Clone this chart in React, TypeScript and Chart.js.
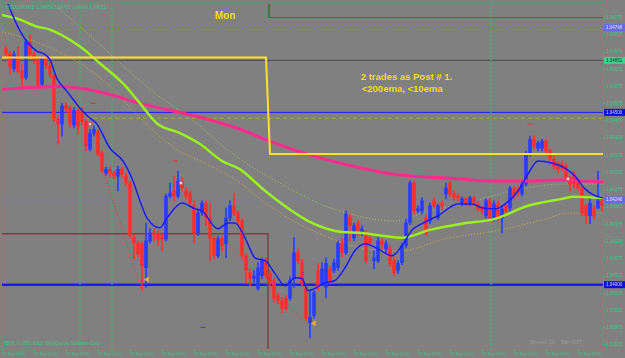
import React, { useEffect, useRef } from 'react';
import { Chart, registerables } from 'chart.js';
Chart.register(...registerables);

// ---------- data ----------
const timeLabels = ["21 Sep 2012", "21 Sep 17:00", "21 Sep 19:00", "21 Sep 21:00", "24 Sep 01:00", "24 Sep 03:00", "24 Sep 05:00", "24 Sep 07:00", "24 Sep 09:00", "24 Sep 11:00", "24 Sep 13:00", "24 Sep 15:00", "24 Sep 17:00", "24 Sep 19:00", "24 Sep 21:00", "24 Sep 23:00", "25 Sep 01:00", "25 Sep 03:00", "25 Sep 05:00"];
const priceTicks = [1.04775, 1.04725, 1.04675, 1.04625, 1.04575, 1.04525, 1.04475, 1.04425, 1.04375, 1.04325, 1.04275, 1.04225, 1.04175, 1.04125, 1.04075, 1.04025, 1.03975, 1.03925, 1.03875, 1.03825];

const barOpen = [1.04685,1.04671,1.04627,1.04662,1.04619,1.04601,1.04705,1.04668,1.04656,1.04581,
1.04656,1.04636,1.04607,1.04480,1.04466,1.04520,1.04512,1.04463,1.04506,1.04503,
1.04474,1.04393,1.04440,1.04445,1.04382,1.04324,1.04335,1.04324,1.04315,1.04335,
1.04315,1.04295,1.04139,1.04121,1.04119,1.04049,1.04127,1.04150,1.04148,1.04142,
1.04133,1.04257,1.04272,1.04257,1.04301,1.04272,1.04266,1.04229,1.04150,1.04208,
1.04237,1.04194,1.04136,1.04084,1.04133,1.04119,1.04194,1.04229,1.04208,1.04185,
1.04084,1.04035,1.04018,1.03989,1.04026,1.04070,1.04032,1.04012,1.03968,1.03954,
1.03960,1.03960,1.04018,1.04093,1.04064,1.03992,1.03890,1.03911,1.04041,1.04006,
1.03992,1.04046,1.04041,1.04049,1.04121,1.04093,1.04194,1.04136,1.04177,1.04150,
1.04148,1.04136,1.04070,1.04070,1.04127,1.04104,1.04104,1.04070,1.04041,1.04064,
1.04113,1.04179,1.04295,1.04214,1.04214,1.04194,1.04185,1.04243,1.04194,1.04237,
1.04263,1.04295,1.04263,1.04257,1.04237,1.04249,1.04237,1.04252,1.04234,1.04223,
1.04200,1.04243,1.04194,1.04234,1.04194,1.04229,1.04223,1.04278,1.04278,1.04263,
1.04292,1.04382,1.04422,1.04396,1.04396,1.04417,1.04388,1.04364,1.04353,1.04350,
1.04344,1.04309,1.04321,1.04301,1.04281,1.04229,1.04200,1.04220,1.04223,1.04243];

const barHigh = [1.04691,1.04677,1.04677,1.04691,1.04639,1.04711,1.04726,1.04677,1.04662,1.04662,
1.04665,1.04648,1.04613,1.04489,1.04526,1.04529,1.04518,1.04515,1.04512,1.04515,
1.04480,1.04451,1.04460,1.04451,1.04388,1.04341,1.04341,1.04330,1.04344,1.04341,
1.04324,1.04301,1.04145,1.04127,1.04125,1.04179,1.04162,1.04162,1.04156,1.04150,
1.04263,1.04295,1.04315,1.04330,1.04312,1.04281,1.04272,1.04243,1.04220,1.04243,
1.04243,1.04237,1.04142,1.04142,1.04142,1.04223,1.04243,1.04266,1.04214,1.04191,
1.04090,1.04046,1.04041,1.04064,1.04078,1.04078,1.04041,1.04018,1.03977,1.03963,
1.03968,1.04023,1.04136,1.04104,1.04075,1.03997,1.03983,1.03983,1.04061,1.04064,
1.04078,1.04055,1.04075,1.04127,1.04133,1.04214,1.04205,1.04179,1.04185,1.04171,
1.04156,1.04148,1.04098,1.04139,1.04133,1.04127,1.04113,1.04078,1.04070,1.04121,
1.04191,1.04301,1.04301,1.04229,1.04252,1.04203,1.04237,1.04252,1.04234,1.04243,
1.04295,1.04301,1.04272,1.04263,1.04255,1.04255,1.04257,1.04257,1.04243,1.04229,
1.04249,1.04249,1.04243,1.04243,1.04229,1.04234,1.04286,1.04286,1.04286,1.04301,
1.04388,1.04431,1.04431,1.04417,1.04422,1.04422,1.04393,1.04373,1.04359,1.04359,
1.04353,1.04315,1.04330,1.04307,1.04286,1.04234,1.04252,1.04229,1.04330,1.04255];

const barLow = [1.04662,1.04610,1.04619,1.04613,1.04575,1.04596,1.04656,1.04642,1.04570,1.04572,
1.04627,1.04601,1.04474,1.04408,1.04431,1.04500,1.04457,1.04454,1.04437,1.04463,
1.04388,1.04388,1.04431,1.04373,1.04324,1.04318,1.04312,1.04307,1.04272,1.04312,
1.04286,1.04136,1.04075,1.04081,1.03983,1.03992,1.04121,1.04127,1.04113,1.04098,
1.04127,1.04252,1.04243,1.04252,1.04272,1.04249,1.04229,1.04121,1.04142,1.04200,
1.04171,1.04070,1.04075,1.04078,1.04098,1.04078,1.04185,1.04200,1.04171,1.04075,
1.04003,1.03997,1.04006,1.03983,1.04018,1.04018,1.03995,1.03948,1.03945,1.03919,
1.03925,1.03954,1.03992,1.04061,1.03995,1.03896,1.03847,1.03902,1.03983,1.03997,
1.03963,1.04003,1.04035,1.04041,1.04081,1.04087,1.04127,1.04127,1.04142,1.04142,
1.04064,1.04113,1.04046,1.04064,1.04104,1.04093,1.04052,1.04026,1.04032,1.04058,
1.04107,1.04174,1.04205,1.04208,1.04205,1.04142,1.04177,1.04223,1.04188,1.04220,
1.04249,1.04255,1.04246,1.04243,1.04229,1.04229,1.04229,1.04229,1.04214,1.04205,
1.04194,1.04185,1.04185,1.04185,1.04150,1.04205,1.04214,1.04249,1.04257,1.04257,
1.04286,1.04373,1.04393,1.04388,1.04388,1.04382,1.04359,1.04335,1.04324,1.04330,
1.04301,1.04272,1.04281,1.04272,1.04200,1.04177,1.04177,1.04191,1.04220,1.04214];

const barClose = [1.04671,1.04633,1.04668,1.04619,1.04599,1.04705,1.04668,1.04653,1.04575,1.04656,
1.04636,1.04610,1.04480,1.04466,1.04518,1.04509,1.04466,1.04506,1.04460,1.04474,
1.04402,1.04440,1.04451,1.04379,1.04330,1.04335,1.04324,1.04315,1.04335,1.04321,
1.04295,1.04142,1.04121,1.04090,1.04055,1.04127,1.04150,1.04145,1.04133,1.04133,
1.04257,1.04266,1.04257,1.04301,1.04281,1.04257,1.04237,1.04150,1.04208,1.04237,
1.04194,1.04136,1.04084,1.04133,1.04113,1.04194,1.04229,1.04208,1.04185,1.04084,
1.04041,1.04018,1.04026,1.04049,1.04070,1.04026,1.04003,1.03960,1.03954,1.03931,
1.03931,1.04012,1.04093,1.04070,1.04003,1.03902,1.03905,1.03977,1.03997,1.04046,
1.04061,1.04012,1.04064,1.04119,1.04093,1.04205,1.04171,1.04171,1.04156,1.04162,
1.04070,1.04121,1.04078,1.04127,1.04116,1.04119,1.04061,1.04035,1.04061,1.04113,
1.04179,1.04295,1.04214,1.04220,1.04243,1.04150,1.04229,1.04229,1.04229,1.04231,
1.04281,1.04263,1.04255,1.04252,1.04249,1.04237,1.04252,1.04237,1.04220,1.04214,
1.04243,1.04194,1.04234,1.04194,1.04220,1.04214,1.04281,1.04257,1.04266,1.04292,
1.04379,1.04422,1.04402,1.04411,1.04417,1.04388,1.04367,1.04344,1.04335,1.04338,
1.04309,1.04292,1.04292,1.04281,1.04208,1.04200,1.04237,1.04200,1.04243,1.04229];

// moving averages: [bar index, price]
const ema10 = [[0.5,1.04850],[1.5,1.04815],[5,1.04726],[8.75,1.04677],[10.25,1.04671],[12,1.04653],[13.75,1.04598],[16.25,1.04561],[19.5,1.04512],[22,1.04483],[23.75,1.04466],[27,1.04396],[30.25,1.04359],[32.75,1.04301],[34.5,1.04243],[36.25,1.04194],[39.5,1.04165],[41.25,1.04194],[45,1.04237],[48.25,1.04220],[50,1.04214],[54,1.04162],[56.5,1.04179],[58.25,1.04179],[60.75,1.04136],[63.25,1.04078],[65.75,1.04070],[68.25,1.04032],[70.75,1.03997],[73.25,1.04020],[75,1.04018],[76.5,1.03983],[78.25,1.03989],[80.75,1.04006],[83.25,1.04012],[85.75,1.04049],[88.25,1.04099],[90.75,1.04119],[94,1.04104],[97.5,1.04084],[100,1.04113],[102.5,1.04159],[105,1.04177],[109,1.04200],[114,1.04234],[117.5,1.04234],[120,1.04223],[123.25,1.04220],[125.75,1.04234],[129,1.04272],[131.5,1.04321],[134,1.04359],[137.5,1.04353],[140.75,1.04338],[143.25,1.04315],[145.75,1.04278],[148.25,1.04258],[150.25,1.04252]];
const emaMid = [[0,1.04783],[4.5,1.04769],[8.75,1.04749],[12,1.04740],[19.5,1.04691],[24.5,1.04642],[30.25,1.04584],[34.5,1.04526],[38.75,1.04468],[44.5,1.04440],[49.5,1.04408],[55,1.04359],[59.5,1.04335],[65.5,1.04275],[72.5,1.04214],[77.5,1.04179],[83.25,1.04156],[90,1.04150],[95,1.04142],[100,1.04136],[107,1.04159],[115,1.04177],[123.25,1.04191],[131.5,1.04229],[140,1.04249],[143,1.04255],[150.25,1.04252]];
const bandUpper = [[12,1.04821],[19.5,1.04749],[35.25,1.04584],[49.5,1.04460],[57.75,1.04379],[74.5,1.04263],[82.75,1.04220],[98.25,1.04185],[106.5,1.04214],[115,1.04234],[127.5,1.04272],[140,1.04292],[150.25,1.04292]];
const bandLower = [[0,1.04734],[7,1.04711],[19.5,1.04642],[27,1.04575],[35,1.04478],[42.75,1.04400],[49.5,1.04359],[57.75,1.04309],[66.25,1.04234],[72.75,1.04185],[80,1.04145],[88.25,1.04110],[99.5,1.04098],[110.75,1.04133],[123.25,1.04156],[135.75,1.04190],[141.5,1.04208],[150.25,1.04208]];
const ema200 = [[0,1.04567],[7,1.04572],[14.5,1.04575],[19.5,1.04570],[27,1.04552],[34.5,1.04526],[42,1.04506],[49.5,1.04486],[59.5,1.04451],[67,1.04416],[76.25,1.04379],[84.5,1.04353],[92,1.04333],[99.5,1.04318],[112,1.04309],[122,1.04301],[132,1.04301],[139.5,1.04304],[150.25,1.04298]];
const stepLine = [[0,1.04659],[66,1.04659],[67,1.04379],[150.25,1.04379]];

// horizontal levels
const levelBlueDotTop = 1.04746;
const levelBid = 1.04651;
const levelBlue1 = 1.04500;
const levelOliveDash = 1.04483;
const levelBlueDotMid = 1.04246;
const levelBrown = 1.04148;
const levelBlue2 = 1.04000;
const levelBoxTop = 1.04775;
const sessionLines = [19.5, 27.5, 122.25];
const tradeLines = [[[24.75, 1.04353], [34.75, 1.03989]], [[55.5, 1.04127], [76, 1.03887]]];
const arrowMarks = [[36.25, 1.04015], [78, 1.03888]];
const closeMarks = [[22, 1.04466], [44.75, 1.04295], [141.5, 1.04307]];
const redDashMarks = [[22.75, 1.04526], [43.25, 1.04359], [132, 1.04466]];
const blueDashMarks = [[50.25, 1.03876]];

const X_MAX = 150.25;
const Y_MIN = 1.038133;
const Y_MAX = 1.048154;
const FONT = "'Liberation Sans', Arial, sans-serif";
const AXIS = '#3dc98a';
const FRAME = '#2fb070';
const RED_C = '#ff2e2e';
const BLUE_C = '#2a3cff';

export default function App() {
  const ref = useRef<HTMLCanvasElement>(null);
  useEffect(() => {
    document.body.style.margin = '0';
    const canvas = ref.current!;
    const pts = (arr: number[][]) => arr.map(([x, y]) => ({ x, y }));
    const hline = (v: number, x0 = 0, x1 = X_MAX) => [{ x: x0, y: v }, { x: x1, y: v }];
    const colors = barOpen.map((o, k) => (barClose[k] >= o ? BLUE_C : RED_C));
    const lineBase = { type: 'line', pointRadius: 0, fill: false, tension: 0 } as any;

    const datasets: any[] = [
      // background levels
      { ...lineBase, data: hline(levelBlueDotTop), borderColor: '#5a6ae8', borderWidth: 1, borderDash: [1, 2], order: 20 },
      { ...lineBase, data: hline(levelBid), borderColor: '#4a4a4a', borderWidth: 1, order: 20 },
      { ...lineBase, data: hline(levelBlue1), borderColor: '#1c1cf0', borderWidth: 1, order: 20 },
      { ...lineBase, data: hline(levelOliveDash, 19.5), borderColor: '#a8a850', borderWidth: 1, borderDash: [4, 3], order: 20 },
      { ...lineBase, data: hline(levelBlueDotMid), borderColor: '#6a70d8', borderWidth: 1, borderDash: [1, 2], order: 20 },
      { ...lineBase, data: [{ x: 0, y: levelBrown }, { x: 66.5, y: levelBrown }, { x: 66.5, y: Y_MIN }], borderColor: '#7a4040', borderWidth: 1.5, order: 20 },
      { ...lineBase, data: hline(levelBlue2), borderColor: '#1c1cf0', borderWidth: 2.5, order: 20 },
      { ...lineBase, data: [{ x: 66.75, y: Y_MAX + 0.0002 }, { x: 66.75, y: levelBoxTop }, { x: X_MAX, y: levelBoxTop }], borderColor: '#2e7a3e', borderWidth: 1, order: 20 },
      ...sessionLines.map((s) => ({ ...lineBase, data: [{ x: s, y: Y_MIN }, { x: s, y: Y_MAX }], borderColor: '#2fbf6f', borderWidth: 1, borderDash: [2, 2], order: 19 })),
      ...tradeLines.map((t) => ({ ...lineBase, data: pts(t), borderColor: '#ff3030', borderWidth: 1, borderDash: [1, 2], order: 18 })),
      // bands
      { ...lineBase, data: pts(bandUpper), borderColor: '#a6c860', borderWidth: 1, borderDash: [1, 2], cubicInterpolationMode: 'monotone', order: 9 },
      { ...lineBase, data: pts(bandLower), borderColor: '#d8b040', borderWidth: 1, borderDash: [1, 2], cubicInterpolationMode: 'monotone', order: 9 },
      // candles
      { type: 'bar', data: barOpen.map((_, k) => ({ x: k + 1, y: [barLow[k], barHigh[k]] })), backgroundColor: colors, barThickness: 1, grouped: false, borderWidth: 0, order: 8 },
      { type: 'bar', data: barOpen.map((o, k) => ({ x: k + 1, y: [Math.min(o, barClose[k]), Math.max(o, barClose[k])] })), backgroundColor: colors, barThickness: 3, grouped: false, borderWidth: 0, minBarLength: 1, order: 7 },
      // indicators
      { ...lineBase, data: pts(ema200), borderColor: '#ff2a8c', borderWidth: 3, cubicInterpolationMode: 'monotone', order: 4 },
      { ...lineBase, data: pts(emaMid), borderColor: '#9cf020', borderWidth: 2.5, cubicInterpolationMode: 'monotone', order: 3 },
      { ...lineBase, data: pts(stepLine), borderColor: '#ffe030', borderWidth: 2, order: 2 },
      { ...lineBase, data: pts(ema10), borderColor: '#1a1aff', borderWidth: 1.5, cubicInterpolationMode: 'monotone', order: 1 },
      // markers
      { type: 'line', showLine: false, data: pts(arrowMarks), pointStyle: 'triangle', pointRotation: -90, pointRadius: 2.5, pointBackgroundColor: '#e8a848', pointBorderColor: '#e8a848', order: 0 },
      { type: 'line', showLine: false, data: pts(closeMarks), pointStyle: 'rect', pointRadius: 2.5, pointBackgroundColor: '#f0d0d0', pointBorderColor: '#d04060', pointBorderWidth: 1, order: 0 },
      { type: 'line', showLine: false, data: pts(redDashMarks), pointStyle: 'line', pointRadius: 2.5, pointBorderColor: '#e03030', pointBorderWidth: 1, order: 0 },
      { type: 'line', showLine: false, data: pts(blueDashMarks), pointStyle: 'line', pointRadius: 2.5, pointBorderColor: '#3040e0', pointBorderWidth: 1, order: 0 },
    ];

    const tags = [
      { v: levelBlueDotTop, bg: '#6a6ae0', fg: '#e0e0ff' },
      { v: levelBid, bg: '#40d090', fg: '#203020' },
      { v: levelBlue1, bg: '#1010d0', fg: '#d0d0ff' },
      { v: levelBlueDotMid, bg: '#6a6ae0', fg: '#e0e0ff' },
      { v: levelBlue2, bg: '#1010d0', fg: '#d0d0ff' },
    ];

    const overlay = {
      id: 'overlay',
      beforeDraw(chart: any) {
        const ctx = chart.ctx;
        ctx.save();
        ctx.fillStyle = '#808080';
        ctx.fillRect(0, 0, chart.width, chart.height);
        ctx.restore();
      },
      afterDraw(chart: any) {
        const ctx = chart.ctx;
        const ca = chart.chartArea;
        const ys = chart.scales.y;
        ctx.save();
        ctx.strokeStyle = FRAME;
        ctx.lineWidth = 1;
        ctx.strokeRect(ca.left - 0.5, ca.top - 0.5, ca.right - ca.left + 1, ca.bottom - ca.top + 1);
        ctx.textBaseline = 'middle';
        ctx.textAlign = 'left';
        for (const t of tags) {
          const py = ys.getPixelForValue(t.v);
          ctx.fillStyle = t.bg;
          ctx.fillRect(ca.right + 1, py - 3.5, 22, 7);
          ctx.fillStyle = t.fg;
          ctx.font = `4.5px ${FONT}`;
          ctx.fillText(t.v.toFixed(5), ca.right + 3, py);
        }
        ctx.fillStyle = AXIS;
        ctx.font = `4.5px ${FONT}`;
        ctx.fillText('USDCHF,M15  1.04658 1.04727 1.04649 1.04651', ca.left + 4, ca.top + 4);
        ctx.fillText('IBFX, \u00A9 2001-2012, MetaQuotes Software Corp.', ca.left + 2, ca.bottom - 5);
        ctx.fillStyle = '#9a9a9a';
        ctx.font = `5px ${FONT}`;
        ctx.fillText('Spread: 20     Bar: 3:37', 530, ca.bottom - 6);
        ctx.fillStyle = '#f5e020';
        ctx.font = `bold 10px ${FONT}`;
        ctx.fillText('Mon', 215, 16);
        ctx.font = `bold 9.5px ${FONT}`;
        ctx.fillText('2 trades as Post # 1.', 361, 77);
        ctx.fillText('<200ema, <10ema', 362, 89);
        ctx.restore();
      },
    };

    const chart = new Chart(canvas, {
      type: 'line',
      data: { datasets },
      options: {
        responsive: false,
        animation: false,
        events: [],
        layout: { padding: { left: 2, top: 2, right: 0, bottom: 0 }, autoPadding: false },
        plugins: { legend: { display: false }, tooltip: { enabled: false }, title: { display: false } },
        scales: {
          x: {
            type: 'linear', min: 0, max: X_MAX, offset: false, position: 'bottom',
            afterBuildTicks: (s: any) => { s.ticks = timeLabels.map((_, k) => ({ value: k * 8 })).filter((t) => t.value <= X_MAX); },
            afterFit: (s: any) => { s.height = 9; },
            ticks: { autoSkip: false, maxRotation: 0, minRotation: 0, align: 'start', padding: 0, color: AXIS, font: { size: 4, family: FONT }, callback: (v: any) => timeLabels[Math.round(Number(v) / 8)] ?? '' },
            grid: { drawOnChartArea: false, drawTicks: true, tickLength: 2, color: AXIS, offset: false },
            border: { display: false },
          },
          y: {
            type: 'linear', position: 'right', min: Y_MIN, max: Y_MAX, beginAtZero: false,
            afterBuildTicks: (s: any) => { s.ticks = priceTicks.map((v) => ({ value: v })); },
            afterFit: (s: any) => { s.width = 22; },
            ticks: { autoSkip: false, padding: 1, color: AXIS, font: { size: 4.5, family: FONT }, callback: (v: any) => Number(v).toFixed(5) },
            grid: { drawOnChartArea: false, drawTicks: true, tickLength: 2, color: AXIS },
            border: { display: false },
          },
        },
      } as any,
      plugins: [overlay],
    } as any);
    return () => chart.destroy();
  }, []);
  return (
    <div style={{ width: 625, height: 358 }}>
      <canvas ref={ref} width={625} height={358} style={{ display: 'block' }} />
    </div>
  );
}
